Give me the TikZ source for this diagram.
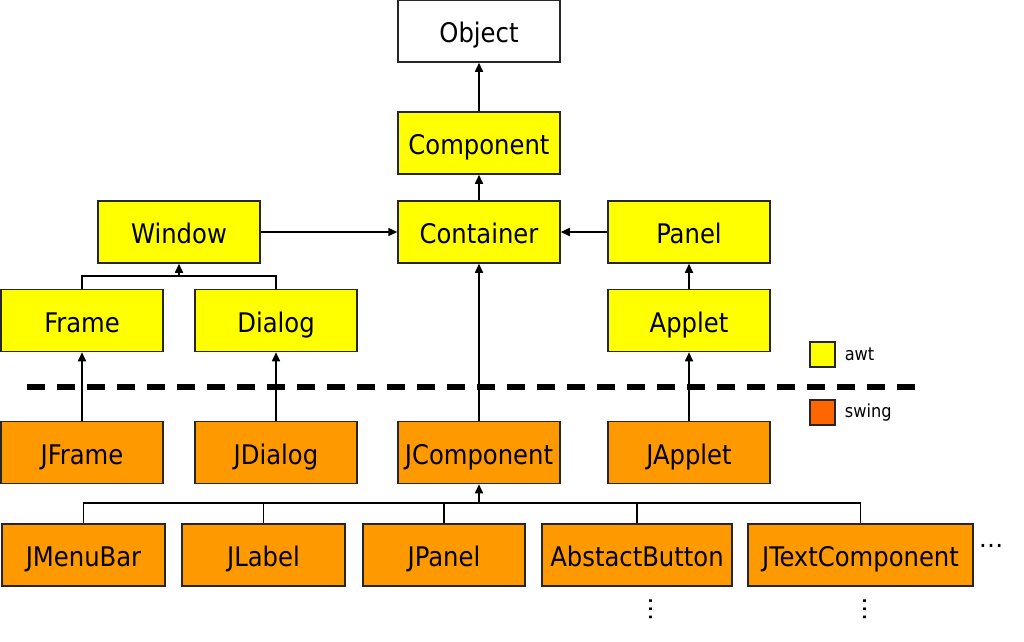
\documentclass[tikz,border=0pt]{standalone}
\usepackage{fontspec}
\setmainfont{DejaVu Sans Condensed}
\newfontfamily\dotfont{DejaVu Sans}
\usetikzlibrary{arrows.meta}
\definecolor{awtyellow}{HTML}{FFFF00}
\definecolor{swingorange}{HTML}{FF9900}
\definecolor{swingkey}{HTML}{FF6600}

\begin{document}
\begin{tikzpicture}[x=1pt,y=-1pt,
  cls/.style={draw=black!85,line width=1.5pt,minimum width=162pt,minimum height=62pt,
    inner sep=0pt,text height=23pt,text depth=0pt,font=\fontsize{27}{30}\selectfont},
  awt/.style={cls,fill=awtyellow},
  swing/.style={cls,fill=swingorange},
  key/.style={draw=black!85,line width=1.2pt,minimum size=25pt,inner sep=0pt},
  keytext/.style={anchor=west,inner sep=0pt,font=\fontsize{18}{20}\selectfont},
  more/.style={inner sep=0pt,font=\dotfont\fontsize{24.5}{28}\selectfont},
  link/.style={line width=1.6pt},
  inh/.style={link,-{Triangle[length=9pt,width=8pt]}}]
\useasboundingbox (0,0) rectangle (1024,641);

% awt classes
\node[cls,fill=white] (object) at (479,31) {Object};
\node[awt] (component) at (479,143) {Component};
\node[awt] (container) at (479,232) {Container};
\node[awt] (window) at (179,232) {Window};
\node[awt] (panel) at (689,232) {Panel};
\node[awt] (frame) at (82,320.5) {Frame};
\node[awt] (dialog) at (276,320.5) {Dialog};
\node[awt] (applet) at (689,320.5) {Applet};

% swing classes
\node[swing] (jframe) at (82,452.5) {JFrame};
\node[swing] (jdialog) at (276,452.5) {JDialog};
\node[swing] (jcomponent) at (479,452.5) {JComponent};
\node[swing] (japplet) at (689,452.5) {JApplet};
\node[swing,minimum width=163pt] (jmenubar) at (83.5,555) {JMenuBar};
\node[swing,minimum width=163pt] (jlabel) at (263.5,555) {JLabel};
\node[swing] (jpanel) at (444,555) {JPanel};
\node[swing,minimum width=190pt] (abstractbutton) at (637,555) {AbstactButton};
\node[swing,minimum width=225pt] (jtextcomponent) at (860.5,555) {JTextComponent};

% more classes
\node[more] (moreright) at (991,546) {…};
\node[more,rotate=90] (morebutton) at (651,609) {…};
\node[more,rotate=90] (moretext) at (865,609) {…};

% awt / swing border
\draw[line width=6pt,dash pattern=on 18pt off 12pt] (27,387) -- (918,387);

% legend
\node[key,fill=awtyellow] (keyawt) at (822.5,354.5) {};
\node[keytext] (keyawtlabel) at ([xshift=9pt]keyawt.east) {awt};
\node[key,fill=swingkey] (keyswing) at (822.5,412.5) {};
\node[keytext] (keyswinglabel) at ([xshift=9pt]keyswing.east) {swing};

% inheritance
\draw[inh] (component) -- (object);
\draw[inh] (container) -- (component);
\draw[inh] (window) -- (container);
\draw[inh] (panel) -- (container);
\draw[inh] (applet) -- (panel);
\draw[inh] (jframe) -- (frame);
\draw[inh] (jdialog) -- (dialog);
\draw[inh] (jcomponent) -- (container);
\draw[inh] (japplet) -- (applet);

\coordinate (windowbus) at (179,276);
\draw[link] (frame.north) |- (windowbus) -| (dialog.north);
\draw[inh] (windowbus) -- (window.south);

\coordinate (jbus) at (479,503);
\draw[link] (jmenubar.north) |- (jbus) -| (jtextcomponent.north);
\foreach \sub in {jlabel,jpanel,abstractbutton}
  \draw[link] (\sub.north) -- (\sub.north |- jbus);
\draw[inh] (jbus) -- (jcomponent.south);
\end{tikzpicture}
\end{document}
